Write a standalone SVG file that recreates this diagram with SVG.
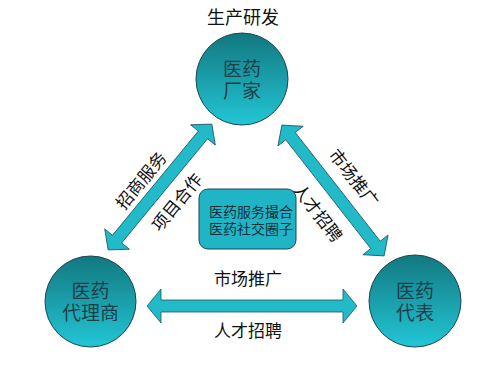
<svg xmlns="http://www.w3.org/2000/svg" width="499" height="371" viewBox="0 0 499 371">
<defs>
<linearGradient id="cg" x1="0" y1="0" x2="0" y2="1">
<stop offset="0" stop-color="#12787f"/>
<stop offset="1" stop-color="#22c6d6"/>
</linearGradient>
</defs>
<style>
text{font-family:"Noto Sans CJK SC","Liberation Sans",sans-serif;text-anchor:middle}
.node{fill:url(#cg);stroke:#1d4650;stroke-width:1}
.nt{font-size:19px;fill:#1b3f4a}
.lab{font-size:17px;fill:#111}
.arr{fill:#22b9c9;stroke:#1a5862;stroke-width:0.8}
.box{fill:#1fb5c6;stroke:#1d4650;stroke-width:1}
.bt{font-size:14px;fill:#14303a}
</style>
<rect width="499" height="371" fill="#fff"/>
<g id="connectors">
<polygon class="arr" points="147,306 161,289 161,300 343,300 343,289 357,306 343,323 343,312 161,312 161,323"/>
<g transform="translate(160,187) rotate(-50.5)">
<polygon class="arr" points="-81.5,0 -67.5,-16 -67.5,-6 67.5,-6 67.5,-16 81.5,0 67.5,16 67.5,6 -67.5,6 -67.5,16"/>
<text class="lab" x="-7" y="-12.5">招商服务</text>
<text class="lab" x="-1" y="29">项目合作</text>
</g>
<g transform="translate(333,190.5) rotate(52)">
<polygon class="arr" points="-83,0 -69,-16 -69,-6 69,-6 69,-16 83,0 69,16 69,6 -69,6 -69,16"/>
<text class="lab" x="3" y="-18">市场推广</text>
<text class="lab" x="8" y="32">人才招聘</text>
</g>
<text class="lab" x="248" y="285">市场推广</text>
<text class="lab" x="248" y="337">人才招聘</text>
</g>
<text class="lab" x="243" y="24" style="font-size:18px">生产研发</text>
<g id="factory">
<circle class="node" cx="242" cy="79" r="46"/>
<text class="nt" x="242" y="76">医药</text>
<text class="nt" x="242" y="98">厂家</text>
</g>
<g id="agent">
<circle class="node" cx="90.5" cy="301.5" r="45.5"/>
<text class="nt" x="90.5" y="298">医药</text>
<text class="nt" x="90.5" y="320">代理商</text>
</g>
<g id="rep">
<circle class="node" cx="415" cy="301" r="46"/>
<text class="nt" x="415" y="298">医药</text>
<text class="nt" x="415" y="320">代表</text>
</g>
<g id="center">
<rect class="box" x="199" y="189" width="97" height="60" rx="9"/>
<text class="bt" x="251" y="217">医药服务撮合</text>
<text class="bt" x="251" y="234">医药社交圈子</text>
</g>
</svg>
